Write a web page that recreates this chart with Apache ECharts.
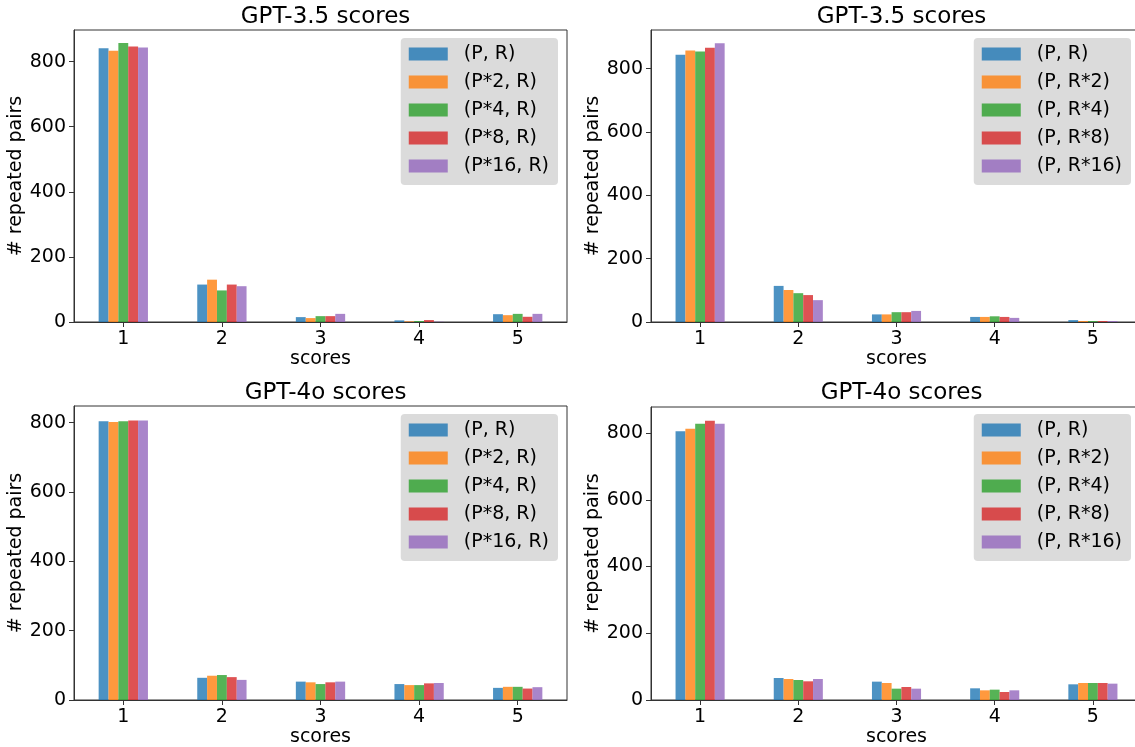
<!DOCTYPE html>
<html>
<head>
<meta charset="utf-8">
<script src="https://cdn.jsdelivr.net/npm/echarts@6/dist/echarts.min.js"></script>
<style>
html,body{margin:0;padding:0;background:#fff;}
#chart{width:1135px;height:747px;}
</style>
</head>
<body>
<div id="chart"></div>
<script>
// ---- data ----
const categories = ['1', '2', '3', '4', '5'];
const yTicks = [0, 200, 400, 600, 800];
const titles = ['GPT-3.5 scores', 'GPT-3.5 scores', 'GPT-4o scores', 'GPT-4o scores'];
const namesPrompt = ['(P, R)', '(P*2, R)', '(P*4, R)', '(P*8, R)', '(P*16, R)'];
const namesResponse = ['(P, R)', '(P, R*2)', '(P, R*4)', '(P, R*8)', '(P, R*16)'];

// GPT-3.5, prompt repeated
const g35_P1  = [841, 115, 15, 5, 24];
const g35_P2  = [833, 130, 12, 2, 21];
const g35_P4  = [857, 97, 18, 3, 25];
const g35_P8  = [846, 115, 18, 6, 16];
const g35_P16 = [843, 110, 25, 1, 25];
// GPT-3.5, response repeated
const g35_R1  = [844, 114, 24, 16, 6];
const g35_R2  = [857, 101, 24, 16, 3];
const g35_R4  = [854, 91, 31, 18, 3];
const g35_R8  = [866, 85, 31, 16, 3];
const g35_R16 = [880, 69, 35, 13, 3];
// GPT-4o, prompt repeated
const g4o_P1  = [804, 64, 53, 46, 35];
const g4o_P2  = [802, 70, 51, 43, 38];
const g4o_P4  = [804, 72, 46, 43, 38];
const g4o_P8  = [806, 66, 51, 48, 33];
const g4o_P16 = [806, 58, 53, 49, 37];
// GPT-4o, response repeated
const g4o_R1  = [805, 66, 55, 35, 47];
const g4o_R2  = [813, 63, 51, 29, 51];
const g4o_R4  = [828, 60, 34, 31, 51];
const g4o_R8  = [837, 56, 39, 24, 51];
const g4o_R16 = [828, 63, 34, 29, 49];

const yMax = [897, 922, 848, 878];

const panelData = [
  [g35_P1, g35_P2, g35_P4, g35_P8, g35_P16],
  [g35_R1, g35_R2, g35_R4, g35_R8, g35_R16],
  [g4o_P1, g4o_P2, g4o_P4, g4o_P8, g4o_P16],
  [g4o_R1, g4o_R2, g4o_R4, g4o_R8, g4o_R16]
];
const panelNames = [namesPrompt, namesResponse, namesPrompt, namesResponse];

// ---- layout / style ----
const colors = ['#1f77b4', '#ff7f0e', '#2ca02c', '#d62728', '#9467bd'];
const FONT = 'DejaVu Sans';
const grids = [
  {left: 74, top: 30, width: 493, height: 292},
  {left: 651, top: 30, width: 491, height: 292},
  {left: 74, top: 406, width: 493, height: 294},
  {left: 651, top: 407, width: 491, height: 293}
];
const legendPos = [
  {right: 577, top: 38},
  {right: 4, top: 38},
  {right: 577, top: 414},
  {right: 4, top: 414}
];
const axisColor = '#333';

const option = {
  animation: false,
  backgroundColor: '#fff',
  title: [], grid: [], xAxis: [], yAxis: [], legend: [], series: []
};

grids.forEach((g, i) => {
  option.grid.push(Object.assign({
    show: true, borderColor: axisColor, borderWidth: 1, backgroundColor: 'transparent',
    containLabel: false, outerBoundsMode: 'none'
  }, g));
  option.title.push({
    text: titles[i],
    left: g.left + g.width / 2,
    textAlign: 'center',
    top: i < 2 ? 1 : 377,
    textStyle: {fontFamily: FONT, fontSize: 23, fontWeight: 'normal', color: '#000'}
  });
  option.xAxis.push({
    type: 'category', gridIndex: i, data: categories, boundaryGap: true,
    name: 'scores', nameLocation: 'middle', nameGap: 27,
    nameTextStyle: {fontFamily: FONT, fontSize: 19, color: '#000'},
    axisLine: {show: true, lineStyle: {color: axisColor, width: 1}},
    axisTick: {show: true, alignWithLabel: true, length: 5, lineStyle: {color: axisColor}},
    axisLabel: {fontFamily: FONT, fontSize: 19, color: '#000', margin: 8},
    splitLine: {show: false}
  });
  option.yAxis.push({
    type: 'value', gridIndex: i, min: 0, max: yMax[i],
    name: '# repeated pairs', nameLocation: 'middle', nameGap: 47, nameRotate: 90,
    nameTextStyle: {fontFamily: FONT, fontSize: 19, color: '#000'},
    axisLine: {show: true, lineStyle: {color: axisColor, width: 1}},
    axisTick: {show: true, length: 5, lineStyle: {color: axisColor}, customValues: yTicks},
    axisLabel: {fontFamily: FONT, fontSize: 19, color: '#000', margin: 8, customValues: yTicks},
    splitLine: {show: false}
  });
  option.legend.push(Object.assign({
    orient: 'vertical',
    data: panelNames[i],
    itemWidth: 39, itemHeight: 13, itemGap: 6,
    padding: [5, 9, 8, 8],
    backgroundColor: 'rgba(217,217,217,0.95)',
    borderRadius: 4,
    selectedMode: false,
    icon: 'rect',
    textStyle: {fontFamily: FONT, fontSize: 19, color: '#000', lineHeight: 22, padding: [0, 0, 0, 11]}
  }, legendPos[i]));
  panelData[i].forEach((arr, k) => {
    option.series.push({
      type: 'bar',
      name: panelNames[i][k],
      xAxisIndex: i, yAxisIndex: i,
      data: arr,
      barWidth: '10%',
      barGap: '0%',
      itemStyle: {color: colors[k], opacity: 0.8},
      emphasis: {disabled: true}
    });
  });
});

const chart = echarts.init(document.getElementById('chart'), null, {renderer: 'canvas'});
chart.setOption(option);
</script>
</body>
</html>
